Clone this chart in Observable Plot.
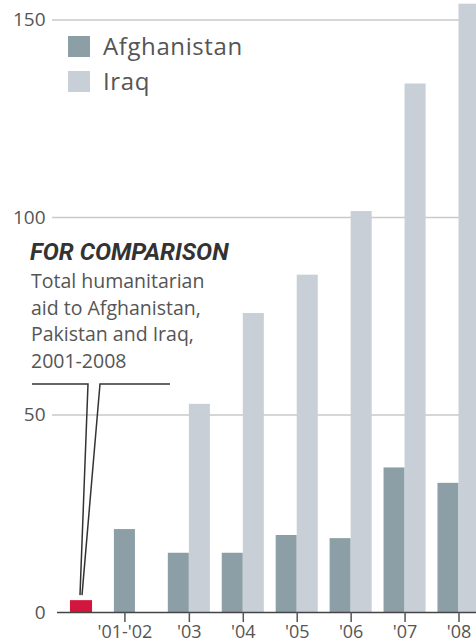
<!DOCTYPE html>
<html>
<head>
<meta charset="utf-8">
<script src="https://cdn.jsdelivr.net/npm/d3@7"></script>
<script src="https://cdn.jsdelivr.net/npm/@observablehq/plot@0.6"></script>
<style>
  html, body { margin: 0; padding: 0; background: #fff; overflow: hidden; }
  #chart { width: 476px; height: 642px; overflow: hidden; }
</style>
</head>
<body>
<div id="chart"></div>
<script>
// ---- data (billions of dollars) ----
const years = ["'01-'02", "'03", "'04", "'05", "'06", "'07", "'08"];
const afghanistan = [21, 15, 15, 19.5, 18.7, 36.6, 32.7];
const iraq = [null, 52.7, 75.7, 85.4, 101.5, 133.8, 154];
const comparisonValue = 3; // total humanitarian aid 2001-2008
const yTicks = [0, 50, 100, 150];
const seriesNames = ["Afghanistan", "Iraq"];
const seriesColors = ["#8c9fa7", "#c8cfd6"];
const comparisonColor = "#d3163d";
const annotationTitle = "FOR COMPARISON";
const annotationLines = ["Total humanitarian", "aid to Afghanistan,", "Pakistan and Iraq,", "2001-2008"];

// ---- build table ----
const rows = [];
years.forEach((yr, i) => {
  rows.push({pos: i + 1, year: yr, country: "Afghanistan", value: afghanistan[i]});
  if (iraq[i] != null) rows.push({pos: i + 1, year: yr, country: "Iraq", value: iraq[i]});
});
const W = 0.39; // bar width in group units
const tickData = years.map((yr, i) => ({pos: iraq[i] == null ? i + 1 - W / 2 : i + 1, label: yr}));
const labelOf = new Map(tickData.map(d => [d.pos, d.label]));

const font = "'Open Sans', 'Noto Sans', sans-serif";

const plot = Plot.plot({
  width: 476,
  height: 642,
  marginTop: 19.5,
  marginBottom: 30,
  marginLeft: 52,
  marginRight: 0,
  style: {fontFamily: font, color: "#555", overflow: "hidden", background: "#fff"},
  x: {type: "linear", domain: [0, 7], range: [81, 458.5], axis: null},
  y: {domain: [0, 150], axis: null},
  color: {domain: seriesNames, range: seriesColors},
  marks: [
    Plot.ruleY(yTicks.filter(d => d > 0), {stroke: "#c9c9c9", strokeWidth: 1.5}),
    Plot.rectY(rows, {
      x1: d => d.pos - (d.country === "Afghanistan" ? W : 0),
      x2: d => d.pos + (d.country === "Iraq" ? W : 0),
      y: "value",
      fill: "country"
    }),
    Plot.rectY([{pos: 0, value: comparisonValue}], {
      x1: d => d.pos - 0.205, x2: d => d.pos + 0.205, y: "value", fill: comparisonColor
    }),
    Plot.ruleY([0], {stroke: "#444", strokeWidth: 1.5, insetLeft: 5}),
    Plot.axisY({ticks: yTicks, tickSize: 0, tickPadding: 7, fontSize: 19, label: null, fill: "#555"}),
    Plot.axisX({ticks: tickData.map(d => d.pos), tickFormat: d => labelOf.get(d), tickSize: 10,
      tickPadding: 3, fontSize: 18, label: null, stroke: "#555", strokeWidth: 1.5, fill: "#555"})
  ]
});

document.getElementById("chart").appendChild(plot);

// ---- in-chart legend and annotation ----
const svg = d3.select(plot);
const xs = plot.scale("x"), ys = plot.scale("y");

const leg = svg.append("g").attr("text-anchor", "start");
seriesNames.forEach((name, i) => {
  const top = 36 + i * 35;
  leg.append("rect").attr("x", 68).attr("y", top).attr("width", 22).attr("height", 21).attr("fill", seriesColors[i]);
  leg.append("text").attr("x", 103).attr("y", top + 19)
    .attr("font-family", font).attr("font-size", 24).attr("letter-spacing", 0.6)
    .attr("fill", "#555").text(name);
});

const ann = svg.append("g").attr("text-anchor", "start");
ann.append("text").attr("x", 30).attr("y", 260)
  .attr("font-family", "Roboto, sans-serif").attr("font-weight", "bold").attr("font-style", "italic")
  .attr("font-size", 24).attr("fill", "#333").text(annotationTitle);
annotationLines.forEach((t, i) => {
  ann.append("text").attr("x", 31).attr("y", 288 + i * 26.5)
    .attr("font-family", font).attr("font-size", 19.5).attr("fill", "#555").text(t);
});

const tipX = xs.apply(0), tipY = ys.apply(comparisonValue) - 5;
const callout = [
  [[32, 384], [88, 384], [tipX - 1, tipY]],
  [[170, 384], [100, 384], [tipX + 1, tipY]]
];
callout.forEach(pts => {
  ann.append("path").attr("d", d3.line()(pts)).attr("fill", "none").attr("stroke", "#333").attr("stroke-width", 1.5);
});
</script>
</body>
</html>
